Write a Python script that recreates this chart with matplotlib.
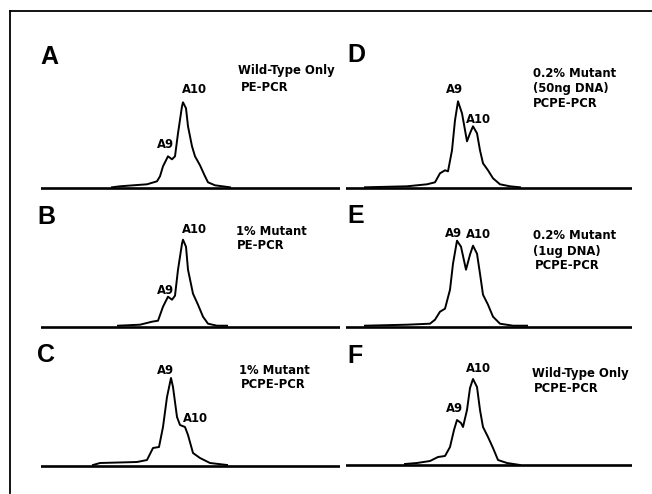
import matplotlib
matplotlib.use("Agg")
import matplotlib.pyplot as plt

# trace readings: x = scan position in the panel, y = signal above baseline
A_x = [71, 79, 106, 116, 119, 122, 127, 131, 134, 137, 141, 142, 145, 147, 151, 154, 159, 164, 167, 174, 189]
A_y = [1, 2, 4, 7, 12, 22, 32, 29, 32, 55, 82, 86, 80, 62, 42, 32, 23, 12, 6, 3, 1]

B_x = [77, 99, 111, 117, 122, 127, 131, 134, 137, 141, 142, 145, 147, 152, 157, 162, 167, 176, 186]
B_y = [1, 2, 5, 6, 20, 30, 27, 31, 57, 83, 87, 80, 57, 33, 22, 10, 3, 1, 1]

C_x = [52, 59, 96, 106, 112, 118, 122, 126, 130, 132, 136, 139, 144, 147, 152, 159, 169, 186]
C_y = [1, 3, 4, 6, 18, 19, 39, 69, 88, 79, 49, 41, 39, 31, 13, 8, 3, 1]

D_x = [19, 61, 81, 89, 94, 99, 102, 106, 109, 112, 116, 121, 124, 127, 131, 134, 137, 142, 147, 154, 164, 174]
D_y = [1, 2, 4, 6, 15, 18, 17, 38, 68, 87, 75, 47, 55, 62, 55, 38, 25, 18, 10, 4, 2, 1]

E_x = [19, 61, 84, 89, 94, 99, 104, 107, 111, 115, 120, 124, 127, 131, 134, 137, 142, 147, 154, 167, 181]
E_y = [1, 2, 3, 7, 15, 18, 37, 63, 86, 80, 57, 72, 81, 73, 53, 32, 22, 10, 3, 1, 1]

F_x = [59, 71, 84, 92, 99, 104, 108, 111, 115, 117, 121, 124, 127, 131, 134, 137, 142, 147, 152, 161, 174]
F_y = [1, 2, 4, 8, 9, 18, 35, 45, 42, 38, 55, 77, 86, 78, 55, 38, 28, 17, 5, 2, 0]

panel_letters = ["A", "B", "C", "D", "E", "F"]
conditions = [
    ["Wild-Type Only", "PE-PCR"],
    ["1% Mutant", "PE-PCR"],
    ["1% Mutant", "PCPE-PCR"],
    ["0.2% Mutant", "(50ng DNA)", "PCPE-PCR"],
    ["0.2% Mutant", "(1ug DNA)", "PCPE-PCR"],
    ["Wild-Type Only", "PCPE-PCR"],
]
traces = [(A_x, A_y), (B_x, B_y), (C_x, C_y), (D_x, D_y), (E_x, E_y), (F_x, F_y)]

# layout (pixels): panel left, width, baseline
boxes = [(41, 299, 188.3), (41, 299, 326.7), (41, 299, 466),
         (346, 286, 188.3), (346, 286, 326.7), (346, 286, 465)]
letter_pos = [(-1, 124), (-4, 103), (-4, 104), (1, 126), (1, 104), (1, 102)]
peak_pos = [
    {"A10": (140.7, 95.6), "A9": (115.7, 40.3)},
    {"A10": (140.7, 93.7), "A9": (115.7, 32.7)},
    {"A9": (115.7, 91.7), "A10": (141.7, 44.3)},
    {"A9": (100, 95), "A10": (119.7, 65.6)},
    {"A9": (99, 90), "A10": (119.7, 88.4)},
    {"A10": (119.7, 92.7), "A9": (100, 53.3)},
]
cond_pos = [
    [(197, 114.7), (199.5, 97)],
    [(195, 91.4), (195.5, 78.1)],
    [(198.3, 92.4), (199.7, 78.1)],
    [(187.3, 111.4), (187.3, 96.4), (187.3, 81.4)],
    [(187.3, 87.4), (187.3, 72.1), (189, 57.4)],
    [(186.3, 88.1), (188.3, 73.1)],
]

W, H = 652, 494
fig = plt.figure(figsize=(W / 100, H / 100), dpi=100)

# outer frame: only top and left edges
frame = fig.add_axes([10 / W, 1 / H, 642 / W, 482 / H])
frame.patch.set_alpha(0)
frame.set_xticks([])
frame.set_yticks([])
frame.spines["right"].set_visible(False)
frame.spines["bottom"].set_visible(False)
frame.spines["top"].set_linewidth(1.3)
frame.spines["left"].set_linewidth(1.3)

lab_font = dict(family="DejaVu Sans", fontweight="bold", fontsize=8.4, color="black")

for i in range(6):
    left, width, base = boxes[i]
    ax = fig.add_axes([left / W, (H - base - 10) / H, width / W, 170 / H])
    ax.set_xlim(0, width)
    ax.set_ylim(-10, 160)
    ax.axis("off")
    ax.axhline(0, color="black", lw=1.9)
    x, y = traces[i]
    ax.plot(x, y, color="black", lw=1.4, solid_joinstyle="round")

    lx, ly = letter_pos[i]
    ax.text(lx, ly, panel_letters[i], family="Liberation Sans", fontweight="bold",
            fontsize=18, va="baseline")
    for name, (px, py) in peak_pos[i].items():
        ax.text(px, py, name, va="baseline", **lab_font)
    for line, (tx, ty) in zip(conditions[i], cond_pos[i]):
        ax.text(tx, ty, line, va="baseline", **lab_font)

fig.savefig("out.png", dpi=100)
